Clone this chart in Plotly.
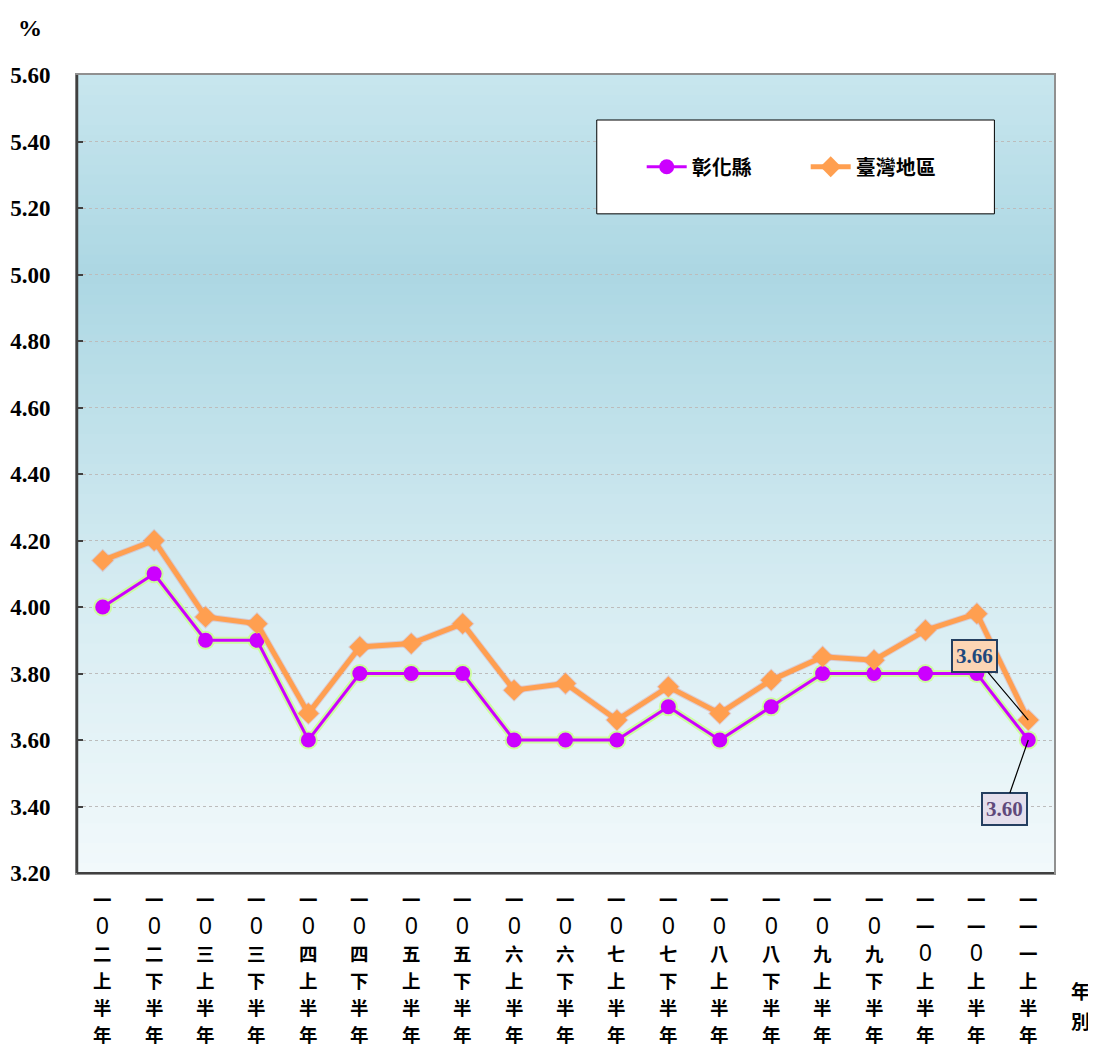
import plotly.graph_objects as go

categories = [
    "一0二上半年", "一0二下半年", "一0三上半年", "一0三下半年", "一0四上半年",
    "一0四下半年", "一0五上半年", "一0五下半年", "一0六上半年", "一0六下半年",
    "一0七上半年", "一0七下半年", "一0八上半年", "一0八下半年", "一0九上半年",
    "一0九下半年", "一一0上半年", "一一0上半年", "一一一上半年",
]
changhua = [4.00, 4.10, 3.90, 3.90, 3.60, 3.80, 3.80, 3.80, 3.60, 3.60,
            3.60, 3.70, 3.60, 3.70, 3.80, 3.80, 3.80, 3.80, 3.60]
taiwan = [4.14, 4.20, 3.97, 3.95, 3.68, 3.88, 3.89, 3.95, 3.75, 3.77,
          3.66, 3.76, 3.68, 3.78, 3.85, 3.84, 3.93, 3.98, 3.66]
y_ticks = [3.20, 3.40, 3.60, 3.80, 4.00, 4.20, 4.40, 4.60, 4.80, 5.00, 5.20, 5.40, 5.60]
x_title = "年別"

xs = list(range(len(categories)))

CJK = "Noto Sans CJK TC"
SERIF = "Liberation Serif"
SANS = "Liberation Sans"

fig = go.Figure()

# glow / shadow traces
fig.add_trace(go.Scatter(x=xs, y=taiwan, mode="lines+markers", showlegend=False, hoverinfo="skip",
                         line=dict(color="rgba(215,140,150,0.35)", width=7),
                         marker=dict(symbol="diamond", size=18, color="rgba(215,140,150,0.35)")))
fig.add_trace(go.Scatter(x=xs, y=changhua, mode="lines+markers", showlegend=False, hoverinfo="skip",
                         line=dict(color="rgba(200,255,140,0.8)", width=7),
                         marker=dict(symbol="circle", size=19, color="rgba(200,255,140,0.8)")))

fig.add_trace(go.Scatter(x=xs, y=changhua, mode="lines+markers", name="彰化縣",
                         line=dict(color="#cc00ff", width=3),
                         marker=dict(symbol="circle", size=15, color="#cc00ff")))
fig.add_trace(go.Scatter(x=xs, y=taiwan, mode="lines+markers", name="臺灣地區",
                         line=dict(color="#ff9f50", width=5),
                         marker=dict(symbol="diamond", size=16, color="#ff9f50")))

# gradient background
shapes = []
stops = [(0.0, (242, 249, 251)), (0.35, (214, 236, 242)), (0.75, (172, 215, 227)), (1.0, (200, 230, 238))]


def col_at(t):
    for i in range(len(stops) - 1):
        t0, c0 = stops[i]
        t1, c1 = stops[i + 1]
        if t0 <= t <= t1:
            f = (t - t0) / (t1 - t0)
            return tuple(int(round(c0[k] + (c1[k] - c0[k]) * f)) for k in range(3))
    return stops[-1][1]


N = 80
for i in range(N):
    t0 = i / N
    t1 = (i + 1) / N
    c = col_at((t0 + t1) / 2)
    shapes.append(dict(type="rect", xref="x domain", yref="y domain", x0=0, x1=1, y0=t0, y1=min(t1 + 0.002, 1),
                       fillcolor="rgb(%d,%d,%d)" % c, line=dict(width=0), layer="below"))

# legend box (opaque, above gridlines; legend itself draws on top)
shapes.append(dict(type="rect", xref="paper", yref="paper", x0=0.532, x1=0.939, y0=0.826, y1=0.9436,
                   fillcolor="white", line=dict(color="black", width=1), layer="above"))
# darker left and bottom axis lines
shapes.append(dict(type="line", xref="paper", yref="paper", x0=0, x1=0, y0=0, y1=1,
                   line=dict(color="#404040", width=2.5)))
shapes.append(dict(type="line", xref="paper", yref="paper", x0=0, x1=1, y0=0, y1=0,
                   line=dict(color="#404040", width=2)))

fig.update_layout(
    width=1096, height=1050,
    margin=dict(l=69, r=50, t=67, b=185, autoexpand=False),
    paper_bgcolor="white",
    plot_bgcolor="rgba(0,0,0,0)",
    shapes=shapes,
    showlegend=True,
    legend=dict(orientation="h", x=0.578, y=0.885, xanchor="left", yanchor="middle",
                bgcolor="rgba(0,0,0,0)", font=dict(family=CJK, size=20, color="black", weight="bold"),
                itemwidth=40, entrywidth=109, traceorder="normal"),
    xaxis=dict(range=[-0.5, len(categories) - 0.5], tickmode="array", tickvals=xs,
               showticklabels=False, showgrid=False, showline=True, linecolor="#909090", linewidth=2,
               mirror=True, ticks="", zeroline=False, fixedrange=True, automargin=False),
    yaxis=dict(range=[3.2, 5.6], tickmode="array", tickvals=y_ticks,
               ticktext=["%.2f" % v for v in y_ticks], showgrid=True, gridcolor="#bcbcbc", griddash="dot",
               gridwidth=1, showline=True, linecolor="#909090", linewidth=2, mirror=True,
               ticks="inside", ticklen=6, tickcolor="#404040", tickwidth=2, ticklabelstandoff=20,
               tickfont=dict(family=SERIF, size=23, color="black", weight="bold"),
               zeroline=False, fixedrange=True, automargin=False),
)

annotations = [
    dict(text="%", xref="paper", yref="paper", x=-0.048, y=1.059, xanchor="center", yanchor="middle",
         showarrow=False, font=dict(family=SERIF, size=24, color="black", weight="bold")),
    dict(x=xs[-1], y=taiwan[-1], xref="x", yref="y", text="3.66", showarrow=True, arrowhead=0,
         arrowwidth=1.2, arrowcolor="black", ax=-54, ay=-64, bgcolor="#fcd5b4", bordercolor="#243f60",
         borderwidth=2, borderpad=3, font=dict(family=SERIF, size=21, color="#1f497d", weight="bold")),
    dict(x=xs[-1], y=changhua[-1], xref="x", yref="y", text="3.60", showarrow=True, arrowhead=0,
         arrowwidth=1.2, arrowcolor="black", ax=-24, ay=69, bgcolor="#e4dfec", bordercolor="#243f60",
         borderwidth=2, borderpad=3, font=dict(family=SERIF, size=21, color="#60497a", weight="bold")),
]

# vertical category labels, one character per row
for xi, cat in zip(xs, categories):
    for r, ch in enumerate(cat):
        if ch == "0":
            font = dict(family=SANS, size=23, color="black")
        else:
            font = dict(family=CJK, size=18.5, color="black", weight="bold")
        annotations.append(dict(x=xi, y=0, xref="x", yref="paper", text=ch, showarrow=False,
                                xanchor="center", yanchor="middle", yshift=-(26 + 27 * r), font=font))

# axis title "年別" stacked vertically
for r, ch in enumerate(x_title):
    annotations.append(dict(x=1.027, y=0, xref="paper", yref="paper", text=ch, showarrow=False,
                            xanchor="center", yanchor="middle", yshift=-(117 + 30 * r),
                            font=dict(family=CJK, size=19, color="black", weight="bold")))

fig.update_layout(annotations=annotations)

fig.write_html("out.html")
